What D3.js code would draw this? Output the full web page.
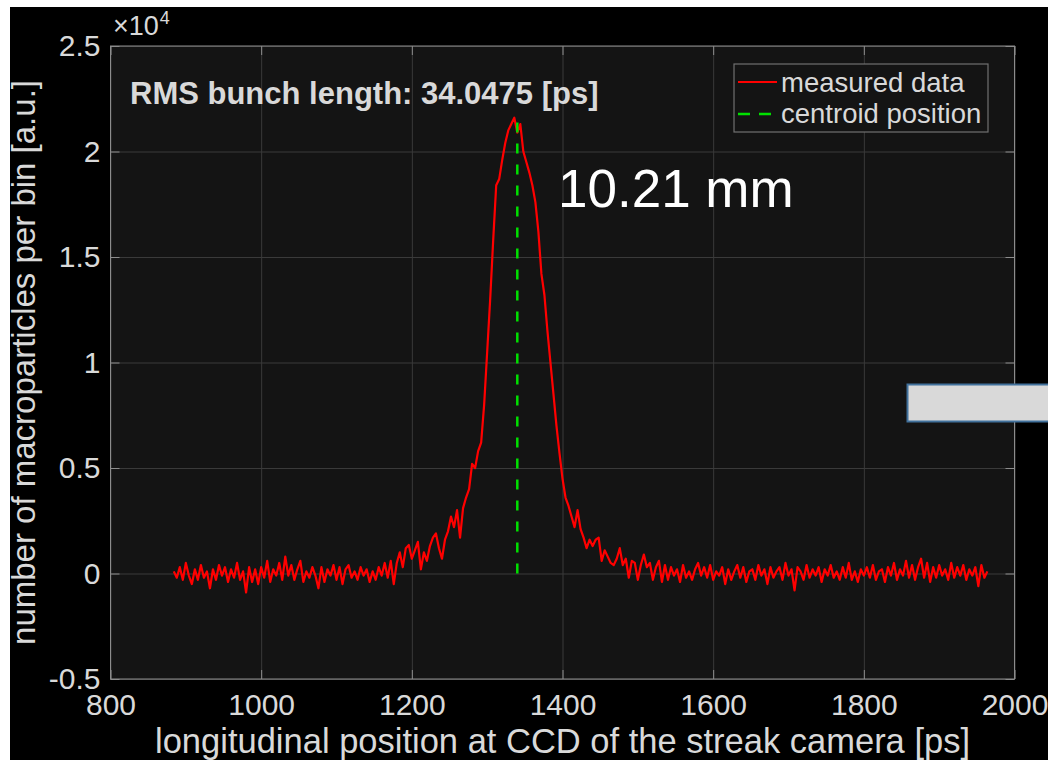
<!DOCTYPE html>
<html><head><meta charset="utf-8">
<script src="https://cdn.jsdelivr.net/npm/d3@7"></script>
<style>html,body{margin:0;padding:0;background:#fff;overflow:hidden} svg{display:block}</style>
</head><body>
<script>
// ---------------- data ----------------
const binStart = 884;      // ps, first bin centre
const binWidth = 4;        // ps per bin
const countsBaseLeft = [100,-200,300,-300,500,-100,-500,200,-300,400,-200,100,-700,200,-300,400,-100,300,-400,200,
  -200,500,-300,100,-900,300,-400,200,-500,300,-200,600,-400,200,-100,500,-300,800,-100,400,
  -300,200,600,-400,100,-200,300,-100,-700,300,-400,200,-100,400,-300,300,-500,200,400,-200,
  100,-300,300,-100,200,-400,100,-300,300,-100,500,-200,600,-500];
const countsRise = [500,1000,300,1200,1350,700,1100,1500,200,1000,600,1300,1700,1900,1200,700,1600,2000,2700,2200,
  3000,1700,3100,3600,4000,5200,5000,5800];
const countsPeak = [6200,8000,10500,13000,15800,18400,18700,19600,20400,21000,21300,21600,20900,21300,20000,19500,19000,18400,17600,16200,
  14200,13200,11500,10000,8500,7000,5700,4500,3600,3200,2700,2200,3000,2100,1700,1200,1600,1300,1600,1700,
  600,1100,800,500,400,700,1200,400,700,-200,600,500,-300,400,900,300,500,-300,300,600,-400,400];
const countsTail = [-300,300,-100,200,-400,400,-200,100,-300,200,500,-100,300,-200,400,-300,100,-100,300,-500,
  200,-300,100,400,-200,300,-400,100,200,-300,400,-100,200,-500,300,-200,100,300,-300,500,
  -100,200,-800,300,100,-300,400,-200,200,-100,300,-400,200,-100,400,-200,100,-300,300,-200,
  500,-300,100,-400,200,-100,300,-200,400,-300,100,200,-400,300,-100,500,-300,200,-100,600,
  -200,400,-300,300,700,-200,500,-400,300,-200,400,-100,200,-300,500,-200,300,-100,400,-300,
  200,-100,300,-600,400,-200,100];
const centroidPs = 1340;
const xTicks = [800,1000,1200,1400,1600,1800,2000];
const yTicks = [-5000,0,5000,10000,15000,20000,25000];
const yTickLabels = ["-0.5","0","0.5","1","1.5","2","2.5"];
const legendLabels = ["measured data","centroid position"];
const titleText = "RMS bunch length: 34.0475 [ps]";
const annotationText = "10.21 mm";
const xLabelText = "longitudinal position at CCD of the streak camera [ps]";
const yLabelText = "number of macroparticles per bin [a.u.]";
const exponentBase = "×10", exponentPow = "4";

// ---------------- build ----------------
const counts = countsBaseLeft.concat(countsRise, countsPeak, countsTail);
const series = counts.map((c,i)=>({ps: binStart + i*binWidth, c}));

const W = 1048, H = 760;
const FONT = "'Liberation Sans', Arial, Helvetica, sans-serif";
const TXT = "#d9d9d9";
const L = 110.5, R = 1014.5, T = 46, B = 679;

const svg = d3.select("body").append("svg").attr("width", W).attr("height", H);
svg.append("rect").attr("x",0).attr("y",0).attr("width",W).attr("height",H).attr("fill","#ffffff");
svg.append("rect").attr("x",10).attr("y",7).attr("width",W-10).attr("height",H-7).attr("fill","#000000");

const x = d3.scaleLinear().domain([800,2000]).range([L,R]);
const y = d3.scaleLinear().domain([-5000,25000]).range([B,T]);

svg.append("rect").attr("x",L).attr("y",T).attr("width",R-L).attr("height",B-T).attr("fill","#141414");

// grid
const grid = svg.append("g");
grid.append("g").attr("transform",`translate(0,${B})`)
  .call(d3.axisBottom(x).tickValues(xTicks).tickSize(-(B-T)).tickFormat(""))
  .call(g=>{g.select(".domain").remove(); g.selectAll("line").attr("stroke","#3a3a3a").attr("stroke-width",1);});
grid.append("g").attr("transform",`translate(${L},0)`)
  .call(d3.axisLeft(y).tickValues(yTicks).tickSize(-(R-L)).tickFormat(""))
  .call(g=>{g.select(".domain").remove(); g.selectAll("line").attr("stroke","#3a3a3a").attr("stroke-width",1);});

// data line
const line = d3.line().x(d=>x(d.ps)).y(d=>y(d.c));
svg.append("path").datum(series).attr("d",line).attr("fill","none")
  .attr("stroke","#ff0000").attr("stroke-width",2.2).attr("stroke-linejoin","round");

// centroid
const peak = d3.max(counts);
svg.append("path").datum([{ps:centroidPs,c:0},{ps:centroidPs,c:peak}]).attr("d",line)
  .attr("fill","none").attr("stroke","#00e000").attr("stroke-width",2.5).attr("stroke-dasharray","10,11");

// axes
const axisStyle = g=>{
  g.select(".domain").remove();
  g.selectAll("line").attr("stroke","#8c8c8c").attr("stroke-width",1);
  g.selectAll("text").attr("fill",TXT).attr("font-family",FONT).attr("font-size",30);
};
svg.append("g").attr("transform",`translate(0,${B})`)
  .call(d3.axisBottom(x).tickValues(xTicks).tickSize(-9).tickPadding(15).tickFormat(d3.format("d")))
  .call(axisStyle);
svg.append("g").attr("transform",`translate(${L},0)`)
  .call(d3.axisLeft(y).tickValues(yTicks).tickSize(-9).tickPadding(10).tickFormat((d,i)=>yTickLabels[i]))
  .call(axisStyle);
svg.append("g").attr("transform",`translate(0,${T})`)
  .call(d3.axisTop(x).tickValues(xTicks).tickSize(-9).tickFormat(""))
  .call(axisStyle);
svg.append("g").attr("transform",`translate(${R},0)`)
  .call(d3.axisRight(y).tickValues(yTicks).tickSize(-9).tickFormat(""))
  .call(axisStyle);
svg.append("rect").attr("x",L).attr("y",T).attr("width",R-L).attr("height",B-T)
  .attr("fill","none").attr("stroke","#8c8c8c").attr("stroke-width",1);

// exponent
const expT = svg.append("text").attr("x",113).attr("y",35).attr("fill",TXT).attr("font-family",FONT).attr("font-size",27).text(exponentBase);
const expW = expT.node().getComputedTextLength();
svg.append("text").attr("x",113+expW+1).attr("y",24).attr("fill",TXT).attr("font-family",FONT).attr("font-size",18).text(exponentPow);

// axis labels
svg.append("text").attr("x",(L+R)/2).attr("y",753).attr("text-anchor","middle")
  .attr("fill",TXT).attr("font-family",FONT).attr("font-size",34.5).text(xLabelText);
svg.append("text").attr("transform",`translate(35,${(T+B)/2}) rotate(-90)`).attr("text-anchor","middle")
  .attr("fill",TXT).attr("font-family",FONT).attr("font-size",33).text(yLabelText);

// title text
svg.append("text").attr("x",130).attr("y",104).attr("fill",TXT).attr("font-family",FONT)
  .attr("font-weight","bold").attr("font-size",31).text(titleText);

// legend
const lg = svg.append("g");
lg.append("rect").attr("x",734).attr("y",64).attr("width",254).attr("height",68)
  .attr("fill","#141414").attr("stroke","#707070").attr("stroke-width",1.2);
lg.append("line").attr("x1",738).attr("x2",777).attr("y1",82).attr("y2",82).attr("stroke","#ff0000").attr("stroke-width",2);
lg.append("line").attr("x1",738).attr("x2",777).attr("y1",114).attr("y2",114).attr("stroke","#00e000")
  .attr("stroke-width",2.5).attr("stroke-dasharray","12,9");
lg.selectAll("text.lt").data(legendLabels).enter().append("text").attr("class","lt")
  .attr("x",781).attr("y",(d,i)=>92+i*31).attr("fill",TXT).attr("font-family",FONT).attr("font-size",27.5).text(d=>d);

// annotation
svg.append("text").attr("x",558).attr("y",207).attr("fill","#ffffff").attr("font-family",FONT)
  .attr("font-size",53).text(annotationText);

// grey box (overlay shape)
svg.append("rect").attr("x",907.5).attr("y",384.5).attr("width",150).attr("height",37)
  .attr("fill","#d9d9d9").attr("stroke","#41719c").attr("stroke-width",2);
</script>
</body></html>
